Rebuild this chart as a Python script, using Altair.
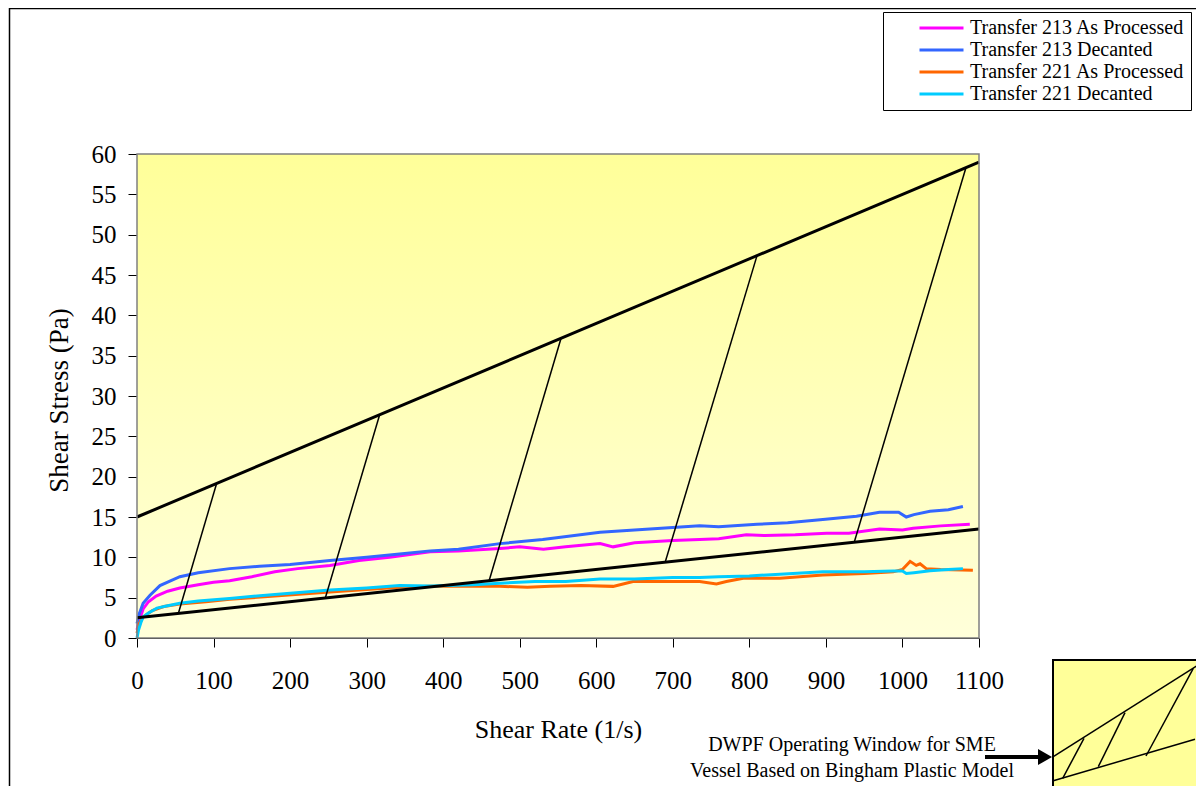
import altair as alt
import pandas as pd

# ---------------- data ----------------
SERIES = ["Transfer 213 As Processed", "Transfer 213 Decanted",
          "Transfer 221 As Processed", "Transfer 221 Decanted"]
COLORS = ["#FF00FF", "#3366FF", "#FF6600", "#00CCFF"]

t213_ap_x = [0, 3, 8, 15, 25, 40, 56, 80, 100, 121, 150, 180, 210, 252, 290, 330, 383, 420,
             474, 500, 531, 560, 605, 622, 650, 700, 735, 760, 796, 820, 860, 901, 930, 970,
             1000, 1014, 1050, 1088]
t213_ap_y = [1.0, 2.2, 3.6, 4.5, 5.2, 5.8, 6.2, 6.6, 6.9, 7.1, 7.6, 8.2, 8.6, 9.0, 9.6, 10.0,
             10.7, 10.8, 11.1, 11.3, 11.0, 11.3, 11.7, 11.3, 11.8, 12.1, 12.2, 12.3, 12.8, 12.7,
             12.8, 13.0, 13.0, 13.5, 13.4, 13.6, 13.9, 14.1]

t213_dec_x = [0, 3, 8, 17, 30, 56, 80, 121, 160, 200, 252, 300, 343, 383, 420, 474, 530, 605,
              650, 700, 735, 760, 810, 850, 896, 940, 970, 995, 1005, 1015, 1036, 1060, 1079]
t213_dec_y = [1.8, 3.0, 4.3, 5.3, 6.5, 7.6, 8.1, 8.6, 8.9, 9.1, 9.6, 10.0, 10.4, 10.8, 11.0,
              11.7, 12.2, 13.1, 13.4, 13.7, 13.9, 13.8, 14.1, 14.3, 14.7, 15.1, 15.6, 15.6,
              15.0, 15.3, 15.7, 15.9, 16.3]

t221_ap_x = [0, 3, 8, 20, 35, 56, 90, 121, 180, 252, 300, 343, 383, 409, 474, 510, 540, 580,
             622, 648, 700, 735, 757, 770, 792, 840, 896, 950, 988, 1000, 1010, 1018, 1023,
             1031, 1050, 1092]
t221_ap_y = [0.6, 1.8, 2.6, 3.4, 3.9, 4.2, 4.5, 4.8, 5.2, 5.7, 6.0, 6.3, 6.4, 6.4, 6.4, 6.3,
             6.4, 6.5, 6.4, 7.0, 7.0, 7.0, 6.7, 7.0, 7.4, 7.4, 7.8, 8.0, 8.2, 8.5, 9.5, 9.0,
             9.2, 8.6, 8.5, 8.4]

t221_dec_x = [0, 2, 5, 8, 15, 26, 40, 56, 80, 121, 180, 252, 300, 343, 383, 440, 474, 520, 560,
              605, 650, 700, 735, 760, 800, 840, 896, 950, 988, 1000, 1005, 1015, 1036, 1060,
              1079]
t221_dec_y = [0.0, 1.0, 1.9, 2.6, 3.1, 3.7, 4.0, 4.3, 4.6, 4.9, 5.4, 5.95, 6.2, 6.5, 6.45, 6.6,
              6.8, 7.0, 7.0, 7.3, 7.3, 7.5, 7.5, 7.6, 7.7, 7.9, 8.2, 8.2, 8.3, 8.3, 8.0, 8.1,
              8.35, 8.5, 8.6]

# Bingham plastic operating window (upper / lower bounding lines)
bingham_x = [0, 1100]
bingham_upper_y = [15, 59]
bingham_lower_y = [2.5, 13.5]

# hatch lines across the window
hatch_x1 = [54, 246, 460, 690, 937]
hatch_y1 = [3.04, 4.96, 7.1, 9.4, 11.87]
hatch_x2 = [104, 317, 554, 810, 1083]
hatch_y2 = [19.16, 27.68, 37.16, 47.4, 58.32]

X_TICKS = list(range(0, 1101, 100))
Y_TICKS = list(range(0, 61, 5))

X_TITLE = "Shear Rate (1/s)"
Y_TITLE = "Shear Stress (Pa)"
NOTE_1 = "DWPF Operating Window for SME"
NOTE_2 = "Vessel Based on Bingham Plastic Model"

# ---------------- tables ----------------
frames = []
for name, xs, ys in zip(SERIES,
                        [t213_ap_x, t213_dec_x, t221_ap_x, t221_dec_x],
                        [t213_ap_y, t213_dec_y, t221_ap_y, t221_dec_y]):
    frames.append(pd.DataFrame({"x": xs, "y": ys, "series": name}))
series_df = pd.concat(frames, ignore_index=True)

bingham_df = pd.concat([
    pd.DataFrame({"x": bingham_x, "y": bingham_upper_y, "which": "upper"}),
    pd.DataFrame({"x": bingham_x, "y": bingham_lower_y, "which": "lower"}),
], ignore_index=True)

hatch_df = pd.DataFrame({"x1": hatch_x1, "y1": hatch_y1, "x2": hatch_x2, "y2": hatch_y2})
one = pd.DataFrame({"a": [0]})

# ---------------- layout ----------------
W, H = 842, 484
FONT = "Liberation Serif"

x_scale = alt.Scale(domain=[0, 1100], nice=False, zero=False)
y_scale = alt.Scale(domain=[0, 60], nice=False, zero=False)

x_axis = alt.Axis(values=X_TICKS, format="d", title=X_TITLE, labelFontSize=25,
                  labelPadding=21, tickSize=9, titleFontSize=26, titleBaseline="alphabetic",
                  titleY=99, labelFlush=False, labelOverlap=False)
y_axis = alt.Axis(values=Y_TICKS, format="d", title=Y_TITLE, labelFontSize=25,
                  labelPadding=12, tickSize=9, titleFontSize=27, titleBaseline="alphabetic",
                  titleX=-70, titleY=246, titleAngle=270, titleAlign="center",
                  labelOverlap=False)

gradient = {"gradient": "linear", "x1": 0, "x2": 0, "y1": 0, "y2": 1,
            "stops": [{"offset": 0, "color": "#FFFF99"}, {"offset": 1, "color": "#FFFFDA"}]}

bg = alt.Chart(one).mark_rect(fill=gradient).encode(
    x=alt.value(0), x2=alt.value(W), y=alt.value(0), y2=alt.value(H))

lines = alt.Chart(series_df).mark_line(strokeWidth=3).encode(
    x=alt.X("x:Q", scale=x_scale, axis=x_axis),
    y=alt.Y("y:Q", scale=y_scale, axis=y_axis),
    color=alt.Color("series:N", scale=alt.Scale(domain=SERIES, range=COLORS),
                    legend=alt.Legend(title=None, orient="none", legendX=746, legendY=-142,
                                      symbolType="stroke", symbolSize=1936,
                                      symbolStrokeWidth=3, labelFont=FONT, labelFontSize=20,
                                      labelColor="black", strokeColor="black",
                                      fillColor="white", padding=6, rowPadding=2,
                                      clipHeight=20, symbolOffset=29, labelOffset=5,
                                      labelLimit=400)),
)

bingham = alt.Chart(bingham_df).mark_line(color="black", strokeWidth=3).encode(
    x=alt.X("x:Q", scale=x_scale, axis=x_axis),
    y=alt.Y("y:Q", scale=y_scale, axis=y_axis),
    detail="which:N")

hatches = alt.Chart(hatch_df).mark_rule(color="black", strokeWidth=1.5).encode(
    x=alt.X("x1:Q", scale=x_scale, axis=x_axis), x2="x2:Q",
    y=alt.Y("y1:Q", scale=y_scale, axis=y_axis), y2="y2:Q")

frame = alt.Chart(one).mark_rect(fill="transparent", stroke="#808080", strokeWidth=1.5).encode(
    x=alt.value(0), x2=alt.value(W), y=alt.value(0), y2=alt.value(H))


def seg(x1, y1, x2, y2, w=1.5):
    return alt.Chart(one).mark_rule(color="black", strokeWidth=w).encode(
        x=alt.value(x1), x2=alt.value(x2), y=alt.value(y1), y2=alt.value(y2))


# outer figure border
border = alt.Chart(one).mark_rect(fill="transparent", stroke="black", strokeWidth=1.5).encode(
    x=alt.value(-127.5), x2=alt.value(W + 400), y=alt.value(-145.5), y2=alt.value(H + 400))

# inset schematic
inset_box = alt.Chart(one).mark_rect(fill="#FFFF99", stroke="black", strokeWidth=2).encode(
    x=alt.value(916), x2=alt.value(1200), y=alt.value(506), y2=alt.value(800))
inset = [
    seg(916.3, 602.7, 1070, 505.5),
    seg(916.3, 626.7, 1058, 585.3),
    seg(925.7, 624.3, 947, 584.3),
    seg(961.3, 612.7, 988, 558.7),
    seg(1009, 602, 1056.3, 514.3),
]

arrow_shaft = seg(848, 603, 905, 603, 4)
arrow_head = alt.Chart(one).mark_point(shape="triangle-right", filled=True, color="black",
                                       size=260, opacity=1).encode(
    x=alt.value(908), y=alt.value(603))

note1 = alt.Chart(one).mark_text(text=NOTE_1, font=FONT, fontSize=20, align="center",
                                 baseline="alphabetic", color="black").encode(
    x=alt.value(715), y=alt.value(597))
note2 = alt.Chart(one).mark_text(text=NOTE_2, font=FONT, fontSize=20, align="center",
                                 baseline="alphabetic", color="black").encode(
    x=alt.value(715), y=alt.value(623))

chart = alt.layer(bg, lines, bingham, hatches, frame, border, inset_box, *inset,
                  arrow_shaft, arrow_head, note1, note2).properties(
    width=W, height=H,
    autosize=alt.AutoSizeParams(type="none"),
    padding={"left": 129, "top": 146, "right": 217, "bottom": 148},
).configure_view(stroke=None).configure_axis(
    labelFont=FONT, titleFont=FONT, labelColor="black", titleColor="black",
    titleFontWeight="normal", domainColor="black", tickColor="black", grid=False, zindex=1,
)

chart.save("out.html", embed_options={"renderer": "svg", "actions": False})
